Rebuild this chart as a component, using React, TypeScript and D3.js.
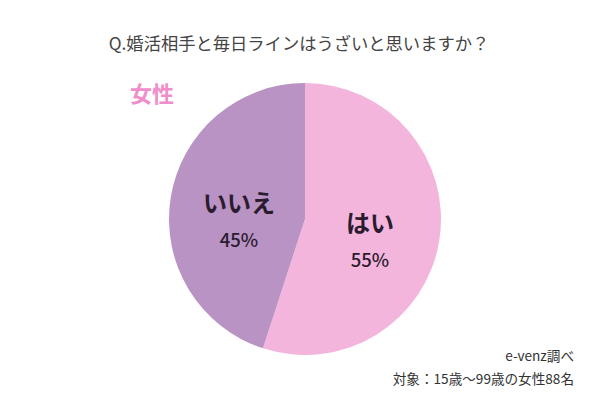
import React from "react";
import * as d3 from "d3";

const categories = ["はい", "いいえ"];
const values = [55, 45];
const colors = ["#F4B5DC", "#B993C4"];
const title = "Q.婚活相手と毎日ラインはうざいと思いますか？";
const groupLabel = "女性";
const source = "e-venz調べ";
const note = "対象：15歳〜99歳の女性88名";

export default function App() {
  const W = 600, H = 400;
  const cx = 305, cy = 219, r = 136;
  const pie = d3.pie<number>().sort(null).value((d) => d)(values);
  const arc = d3.arc<d3.PieArcDatum<number>>().innerRadius(0).outerRadius(r);
  const labelPos = [
    [65, 13],
    [-66, -7],
  ];
  const font = "'Noto Sans CJK JP', 'Noto Sans', sans-serif";
  return (
    <svg width={W} height={H} style={{ position: "absolute", left: 0, top: 0 }} fontFamily={font}>
      <rect width={W} height={H} fill="#fff" />
      <text x={299} y={50} textAnchor="middle" fontSize={17.3} fill="#444">{title}</text>
      <text x={130} y={102} fontSize={22} fontWeight="bold" fill="#F08DCB">{groupLabel}</text>
      <g transform={`translate(${cx},${cy})`}>
        {pie.map((p, i) => (
          <path key={i} d={arc(p) || ""} fill={colors[i]} />
        ))}
        {pie.map((p, i) => (
          <g key={"l" + i} transform={`translate(${labelPos[i][0]},${labelPos[i][1]})`}>
            <text textAnchor="middle" fontSize={24} fontWeight="bold" fill="#2B1B2E">{categories[i]}</text>
            <text y={35} textAnchor="middle" fontSize={18.5} fontWeight={500} fill="#2B1B2E">{values[i]}%</text>
          </g>
        ))}
      </g>
      <text x={574} y={361} textAnchor="end" fontSize={13.6} fill="#333">{source}</text>
      <text x={574} y={384} textAnchor="end" fontSize={13.6} fill="#333">{note}</text>
    </svg>
  );
}
